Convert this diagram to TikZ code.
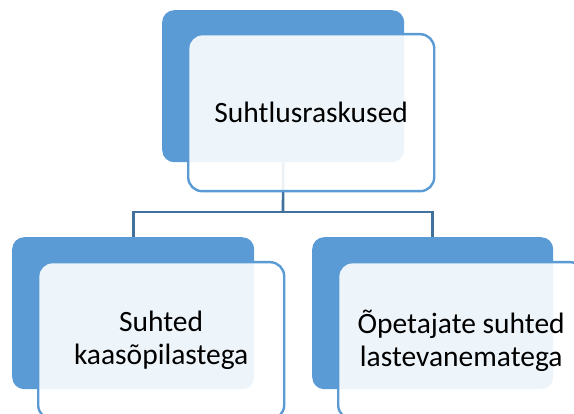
\documentclass[tikz,border=0pt]{standalone}
\usepackage{fontspec}
\setmainfont{Carlito}
\definecolor{accent}{HTML}{5B9BD5}
\definecolor{linkline}{HTML}{41719C}
\begin{document}
\begin{tikzpicture}[x=1pt,y=-1pt,
  backbox/.style={draw=none,fill=accent,rounded corners=12pt,anchor=north west,
    minimum width=242pt,minimum height=152pt,inner sep=0pt},
  frontbox/.style={draw=accent,line width=2.4pt,fill=white,fill opacity=0.9,text opacity=1,
    rounded corners=14pt,anchor=north west,minimum width=246pt,minimum height=157pt,
    inner sep=0pt,align=center,font=\fontsize{29.5}{33}\selectfont},
  link/.style={draw=linkline,line width=2.6pt}]
\useasboundingbox (0,0) rectangle (574,414);
\clip (0,0) rectangle (574,414);
% back plates
\node[backbox] (tb) at (162,10) {};
\node[backbox] (lb) at (12,237) {};
\node[backbox,minimum width=241pt] (rb) at (312,237) {};
% connectors
\coordinate (j) at (283,212);
\draw[link] (tb.south) -- (j);
\draw[link] (j) -| (lb.north);
\draw[link] (j) -| (rb.north);
% front cards with text
\node[frontbox] (tf) at (187,33) {Suhtlusraskused};
\node[frontbox] (lf) at (37,261) {Suhted\\kaasõpilastega};
\node[frontbox] (rf) at (337,261) {Õpetajate suhted\\lastevanematega};
\end{tikzpicture}
\end{document}
